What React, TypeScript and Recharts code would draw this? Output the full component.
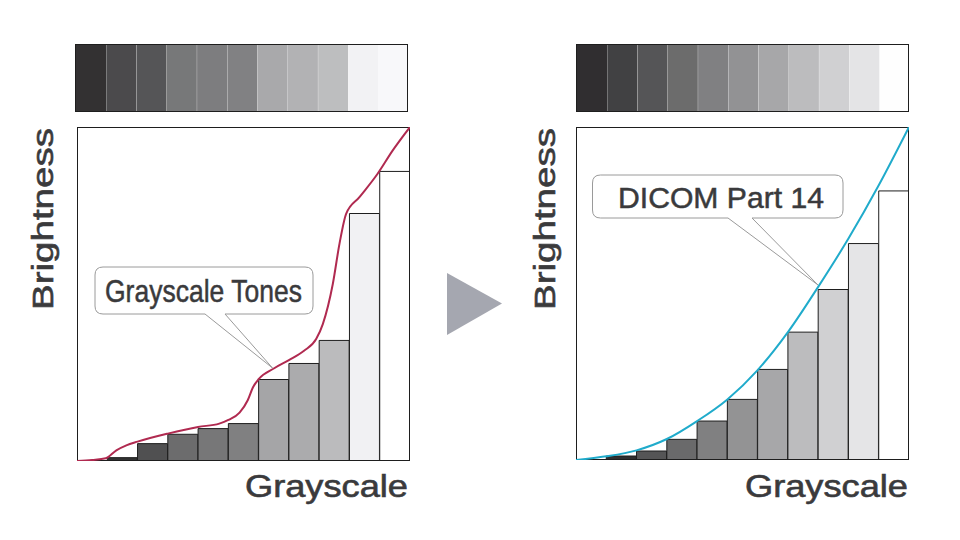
import { BarChart, Bar, Cell, LineChart, Line, XAxis, YAxis } from 'recharts';

// gray steps shown in the strips above each plot (11 tones)
const toneSteps = ['t0', 't1', 't2', 't3', 't4', 't5', 't6', 't7', 't8', 't9', 't10'];
const stripValue = [1, 1, 1, 1, 1, 1, 1, 1, 1, 1, 1];

const leftStripColors = ['#333132', '#4b4a4c', '#555557', '#777879', '#7d7d7f', '#818183', '#a9a9ab', '#b2b2b4', '#bdbebf', '#f2f2f4', '#f8f8fa'];
const rightStripColors = ['#302e30', '#414143', '#555557', '#6c6c6c', '#808082', '#929294', '#a7a7a9', '#bcbcbe', '#d0d0d2', '#e4e4e6', '#fefefe'];

// bar heights (% of brightness) per gray step
const leftBars = [null, 1.0, 5.2, 8.0, 9.7, 11.2, 24.4, 29.2, 36.1, 74.1, 86.7];
const rightBars = [null, 1.2, 2.7, 6.2, 11.7, 18.2, 27.2, 38.4, 51.2, 65.0, 80.8];

const leftBarColors = ['#ffffff', '#333333', '#505051', '#6c6c6d', '#777778', '#808081', '#a5a5a7', '#ababad', '#bbbbbd', '#f1f1f3', '#ffffff'];
const rightBarColors = ['#ffffff', '#2e2e2f', '#555556', '#6a6a6b', '#808081', '#939394', '#a7a7a9', '#bcbcbe', '#d0d0d2', '#e5e5e7', '#ffffff'];

// response curves: [gray position, brightness %]
const grayscaleTones = [
  [0, 0], [0.5, 0.3], [0.95, 0.8], [1.3, 3.2], [1.63, 4.7], [2, 5.8], [3, 8.2], [4, 10.2],
  [4.7, 11.2], [5, 12.3], [5.37, 14.5], [5.64, 18.2], [5.81, 22], [6, 24.5], [6.5, 27.7],
  [7, 30.2], [7.5, 33], [7.9, 36.5], [8.12, 41], [8.45, 53], [8.67, 65], [8.89, 74],
  [9.33, 79], [9.93, 86], [10.43, 93], [11, 100],
];
const dicomPart14 = [
  [0, 0], [1, 1.1], [2, 2.9], [3, 6.3], [4, 11.7], [5, 18.2], [6, 27], [7, 38.4],
  [8, 52], [9, 66.5], [10, 82.5], [11, 100],
];

const TEXT = '#3a3a3c';
const FONT = '"Liberation Sans", Arial, sans-serif';

function Panel({ x, stripX, plotH, bars, barColors, stripColors, curve, curveColor }) {
  const barData = toneSteps.map((t, i) => ({ step: t, value: bars[i] }));
  const stripData = toneSteps.map((t, i) => ({ step: t, value: stripValue[i] }));
  const curveData = curve.map(([g, b]) => ({ g, b }));

  return (
    <>
      <div style={{ position: 'absolute', left: stripX, top: 44, width: 333, height: 68, border: '1.5px solid #1e1e1e', boxSizing: 'border-box', overflow: 'hidden' }}>
        <BarChart width={333} height={68} data={stripData} margin={{ top: 0, right: 0, bottom: 0, left: 0 }} barCategoryGap={0}>
          <XAxis dataKey="step" hide />
          <YAxis hide domain={[0, 1]} />
          <Bar dataKey="value" isAnimationActive={false}>
            {stripData.map((d, i) => <Cell key={d.step} fill={stripColors[i]} />)}
          </Bar>
        </BarChart>
      </div>

      <div style={{ position: 'absolute', left: x, top: 127, width: 333, height: plotH }}>
        <BarChart width={333} height={plotH} data={barData} margin={{ top: 0, right: 0, bottom: 0, left: 0 }} barCategoryGap={0}>
          <XAxis dataKey="step" hide />
          <YAxis hide domain={[0, 100]} />
          <Bar dataKey="value" stroke="#1e1e1e" strokeWidth={1} isAnimationActive={false}>
            {barData.map((d, i) => <Cell key={d.step} fill={barColors[i]} />)}
          </Bar>
        </BarChart>
      </div>

      <div style={{ position: 'absolute', left: x, top: 127, width: 333, height: plotH, border: '1.5px solid #1e1e1e', boxSizing: 'border-box' }} />

      <div style={{ position: 'absolute', left: x, top: 127, width: 333, height: plotH }}>
        <LineChart width={333} height={plotH} data={curveData} margin={{ top: 0, right: 0, bottom: 0, left: 0 }}>
          <XAxis dataKey="g" type="number" domain={[0, 11]} hide />
          <YAxis hide domain={[0, 100]} />
          <Line type="monotone" dataKey="b" stroke={curveColor} strokeWidth={2} dot={false} isAnimationActive={false} />
        </LineChart>
      </div>
    </>
  );
}

export default function App() {
  const heavy = { fill: TEXT, stroke: TEXT, strokeWidth: 0.6 };
  return (
    <div style={{ position: 'absolute', left: 0, top: 0, width: 960, height: 540, background: '#fff', overflow: 'hidden', fontFamily: FONT }}>
      <Panel x={77} stripX={75} plotH={334} bars={leftBars} barColors={leftBarColors} stripColors={leftStripColors} curve={grayscaleTones} curveColor="#b02a50" />
      <Panel x={576} stripX={576} plotH={333} bars={rightBars} barColors={rightBarColors} stripColors={rightStripColors} curve={dicomPart14} curveColor="#20abcb" />

      <svg width={960} height={540} style={{ position: 'absolute', left: 0, top: 0, pointerEvents: 'none' }} fontFamily={FONT}>
        <polygon points="447,273 502,303.5 447,335" fill="#a5a7b0" />

        <text transform="translate(53,219) rotate(-90)" textAnchor="middle" fontSize={30} {...heavy} textLength={182} lengthAdjust="spacingAndGlyphs">Brightness</text>
        <text transform="translate(555,219) rotate(-90)" textAnchor="middle" fontSize={30} {...heavy} textLength={182} lengthAdjust="spacingAndGlyphs">Brightness</text>

        <text x={245} y={497} fontSize={30.5} {...heavy} textLength={163} lengthAdjust="spacingAndGlyphs">Grayscale</text>
        <text x={745} y={497} fontSize={30.5} {...heavy} textLength={163} lengthAdjust="spacingAndGlyphs">Grayscale</text>

        <path d="M 103 267 H 305 Q 313 267 313 275 V 306 Q 313 314 305 314 H 225 L 272.5 368 L 205 314 H 103 Q 95 314 95 306 V 275 Q 95 267 103 267 Z" fill="#fff" stroke="#9a9a9a" strokeWidth={1} />
        <text x={105} y={301.5} fontSize={32} {...heavy} strokeWidth={0.5} textLength={197} lengthAdjust="spacingAndGlyphs">Grayscale Tones</text>

        <path d="M 600.5 175 H 835 Q 843 175 843 183 V 210 Q 843 218 835 218 H 752 L 818 285 L 728 218 H 600.5 Q 592.5 218 592.5 210 V 183 Q 592.5 175 600.5 175 Z" fill="#fff" stroke="#9a9a9a" strokeWidth={1} />
        <text x={618} y={207.5} fontSize={29} {...heavy} strokeWidth={0.5} textLength={206} lengthAdjust="spacingAndGlyphs">DICOM Part 14</text>
      </svg>
    </div>
  );
}
